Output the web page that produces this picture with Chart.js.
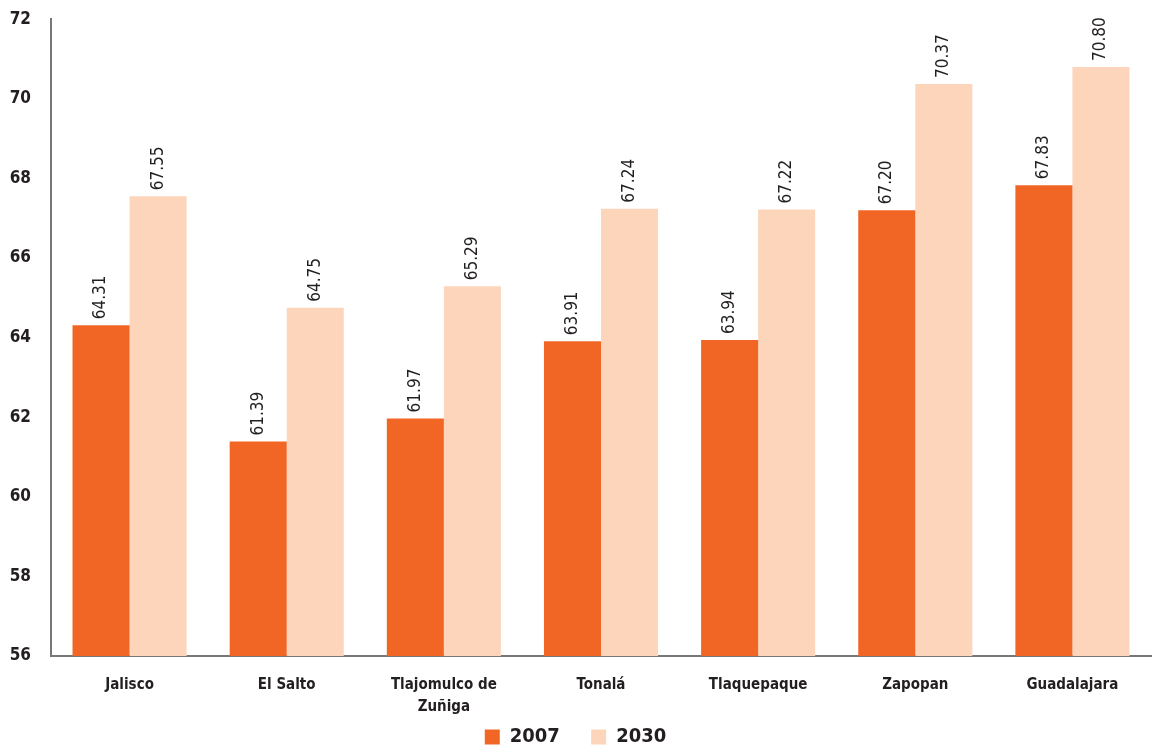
<!DOCTYPE html>
<html lang="es">
<head>
<meta charset="UTF-8">
<title>Bar chart</title>
<style>
  html, body { margin: 0; padding: 0; background: #fff; overflow: hidden; }
  #wrap { width: 1163px; height: 768px; position: absolute; left: 0; top: -11px; }
</style>
</head>
<body>
<div id="wrap"><canvas id="chart"></canvas></div>
<script src="https://cdn.jsdelivr.net/npm/chart.js"></script>
<script>
// data
const categories = ['Jalisco', 'El Salto', ['Tlajomulco de', 'Zuñiga'], 'Tonalá', 'Tlaquepaque', 'Zapopan', 'Guadalajara'];
const values2007 = [64.31, 61.39, 61.97, 63.91, 63.94, 67.20, 67.83];
const values2030 = [67.55, 64.75, 65.29, 67.24, 67.22, 70.37, 70.80];
const yTicks = [56, 58, 60, 62, 64, 66, 68, 70, 72];

const FONT = "'Liberation Sans Narrow', 'DejaVu Sans Condensed', sans-serif";
const TEXT = '#231f20';

// rotated value labels above each bar
const valueLabels = {
    id: 'valueLabels',
    afterDatasetsDraw(chart) {
        const ctx = chart.ctx;
        ctx.save();
        ctx.font = '17px ' + FONT;
        ctx.fillStyle = TEXT;
        ctx.textAlign = 'left';
        ctx.textBaseline = 'middle';
        chart.data.datasets.forEach((ds, i) => {
            chart.getDatasetMeta(i).data.forEach((bar, j) => {
                ctx.save();
                ctx.translate(bar.x, bar.y - 6);
                ctx.rotate(-Math.PI / 2);
                ctx.fillText(ds.data[j].toFixed(2), 0, 0);
                ctx.restore();
            });
        });
        ctx.restore();
    }
};

new Chart(document.getElementById('chart'), {
    type: 'bar',
    data: {
        labels: categories,
        datasets: [
            { label: '2007', data: values2007, backgroundColor: '#f26625' },
            { label: '2030', data: values2030, backgroundColor: '#fdd5bb' }
        ]
    },
    options: {
        responsive: true,
        maintainAspectRatio: false,
        animation: false,
        layout: { padding: { top: 0, right: 12, left: 0, bottom: 0 } },
        datasets: { bar: { barPercentage: 1, categoryPercentage: 0.726 } },
        scales: {
            x: {
                grid: { display: false, drawTicks: false },
                border: { color: '#777', width: 2 },
                ticks: { color: TEXT, font: { family: FONT, size: 15, weight: 'bold', lineHeight: 1.45 }, padding: 18, maxRotation: 0, autoSkip: false },
                afterFit: axis => { axis.height = 71; }
            },
            y: {
                min: 56, max: 72,
                afterBuildTicks: axis => { axis.ticks = yTicks.map(v => ({ value: v })); },
                grid: { display: false, drawTicks: false },
                border: { color: '#777', width: 2 },
                ticks: { color: TEXT, font: { family: FONT, size: 17, weight: 'bold' }, padding: 20 },
                afterFit: axis => { axis.width = 51; }
            }
        },
        plugins: {
            legend: {
                position: 'bottom',
                labels: {
                    color: TEXT,
                    font: { family: FONT, size: 20, weight: 'bold' },
                    boxWidth: 15, boxHeight: 15, padding: 0,
                    generateLabels: chart => Chart.defaults.plugins.legend.labels.generateLabels(chart)
                        .map((item, i) => (i === 0 ? Object.assign(item, { text: item.text + '     ' }) : item))
                }
            },
            tooltip: { enabled: false }
        }
    },
    plugins: [valueLabels]
});
</script>
</body>
</html>
